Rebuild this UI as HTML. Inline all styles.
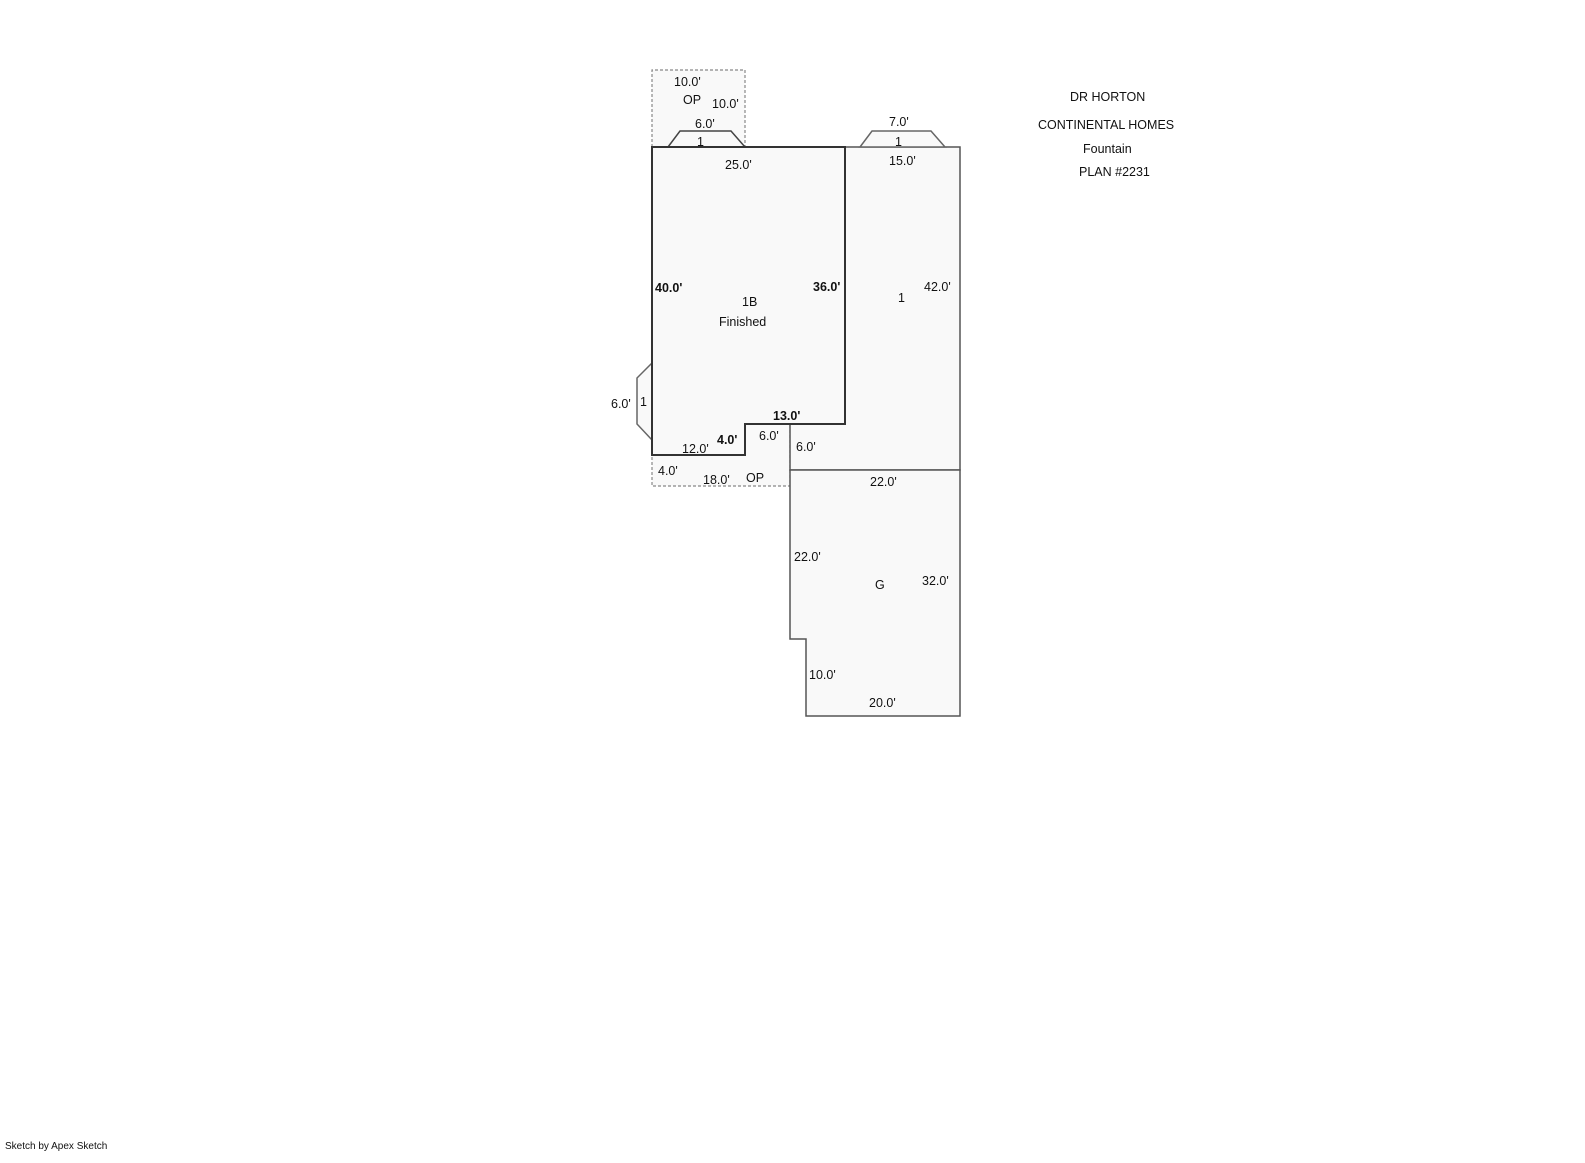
<!DOCTYPE html>
<html><head><meta charset="utf-8"><style>
html,body{margin:0;padding:0;background:#fff;}
svg{display:block;}
text{font-family:"Liberation Sans",sans-serif;font-size:12.5px;fill:#111;}
.b{font-weight:bold;}
</style></head><body>
<svg width="1585" height="1163" viewBox="0 0 1585 1163">
<g fill="#f9f9f9" stroke="#888" stroke-width="1.2" stroke-dasharray="3,2">
<polyline points="652,147 652,70 745,70 745,147"/>
<polygon points="652,455 745,455 745,424 790,424 790,486 652,486"/>
</g>
<g fill="#f9f9f9" stroke="#555" stroke-width="1.5">
<polygon points="845,147 960,147 960,470 790,470 790,424 845,424"/>
<polygon points="790,470 960,470 960,716 806,716 806,639 790,639"/>
<polygon points="668,147 680,131 731,131 745,147" stroke="#444"/>
<polygon points="860,147 872,131 931,131 945,147" stroke="#666"/>
<polygon points="652,363 637,378 637,424 652,440" stroke="#666"/>
</g>
<polygon points="652,147 845,147 845,424 745,424 745,455 652,455" fill="#f9f9f9" stroke="#333" stroke-width="2"/>
<text x="674" y="86">10.0'</text>
<text x="683" y="104">OP</text>
<text x="712" y="108">10.0'</text>
<text x="695" y="128">6.0'</text>
<text x="697" y="146">1</text>
<text x="889" y="126">7.0'</text>
<text x="895" y="146">1</text>
<text x="725" y="169">25.0'</text>
<text x="889" y="165">15.0'</text>
<text x="655" y="292" class="b">40.0'</text>
<text x="813" y="291" class="b">36.0'</text>
<text x="742" y="306">1B</text>
<text x="719" y="326">Finished</text>
<text x="898" y="302">1</text>
<text x="924" y="291">42.0'</text>
<text x="611" y="408">6.0'</text>
<text x="640" y="406">1</text>
<text x="773" y="420" class="b">13.0'</text>
<text x="717" y="444" class="b">4.0'</text>
<text x="759" y="440">6.0'</text>
<text x="682" y="453">12.0'</text>
<text x="796" y="451">6.0'</text>
<text x="658" y="475">4.0'</text>
<text x="703" y="484">18.0'</text>
<text x="746" y="482">OP</text>
<text x="870" y="486">22.0'</text>
<text x="794" y="561">22.0'</text>
<text x="875" y="589">G</text>
<text x="922" y="585">32.0'</text>
<text x="809" y="679">10.0'</text>
<text x="869" y="707">20.0'</text>
<text x="1070" y="101">DR HORTON</text>
<text x="1038" y="129">CONTINENTAL HOMES</text>
<text x="1083" y="153">Fountain</text>
<text x="1079" y="176">PLAN #2231</text>
<text x="5" y="1149" style="font-size:10px">Sketch by Apex Sketch</text>
</svg>
</body></html>
